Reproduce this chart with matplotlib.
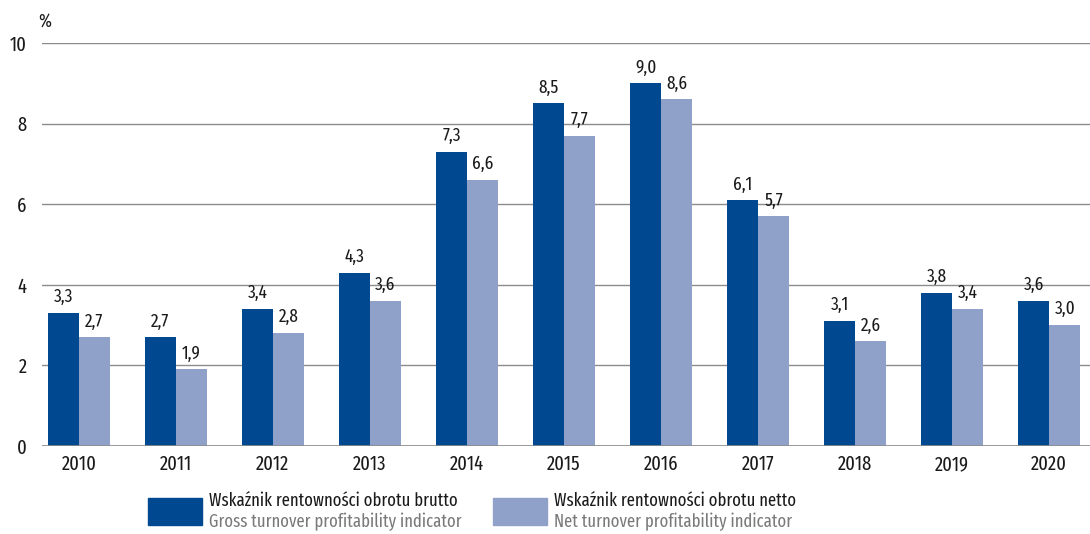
import matplotlib
matplotlib.use("Agg")
import matplotlib.pyplot as plt
from matplotlib.patches import Rectangle
import numpy as np

years = ["2010", "2011", "2012", "2013", "2014", "2015", "2016", "2017", "2018", "2019", "2020"]
brutto = [3.3, 2.7, 3.4, 4.3, 7.3, 8.5, 9.0, 6.1, 3.1, 3.8, 3.6]
netto = [2.7, 1.9, 2.8, 3.6, 6.6, 7.7, 8.6, 5.7, 2.6, 3.4, 3.0]
labels_pl = ["Wskaźnik rentowności obrotu brutto", "Wskaźnik rentowności obrotu netto"]
labels_en = ["Gross turnover profitability indicator", "Net turnover profitability indicator"]
yticks = [0, 2, 4, 6, 8, 10]

plt.rcParams['font.family'] = ['Fira Sans Extra Condensed', 'DejaVu Sans']
dark = "#004990"
light = "#8fa1c9"
txt = "#1a1a1a"
fs_tick = 14.5
fs_lab = 13.5
fs_leg = 13

fig = plt.figure(figsize=(10.9, 5.34), dpi=100)
ax = fig.add_axes([42/1090, 1 - 446/534, 1 - 42/1090, (446 - 43)/534])
x = np.arange(len(years))
w = 0.32
b1 = ax.bar(x - w/2, brutto, w, color=dark, zorder=3)
b2 = ax.bar(x + w/2, netto, w, color=light, zorder=3)
for bars, vals in ((b1, brutto), (b2, netto)):
    for r, v in zip(bars, vals):
        ax.annotate(f"{v:.1f}".replace(".", ","), (r.get_x() + r.get_width()/2, v),
                    xytext=(0, 5), textcoords="offset points", ha="center", va="bottom",
                    fontsize=fs_lab, color=txt)
ax.set_xlim(-0.38, 10.42)
ax.set_ylim(0, 10)
ax.set_yticks(yticks)
ax.set_yticklabels([str(t) for t in yticks], fontsize=fs_tick, color=txt)
ax.set_xticks(x)
ax.set_xticklabels(years, fontsize=fs_tick, color=txt)
ax.tick_params(axis="both", length=0)
ax.tick_params(axis="y", pad=11)
ax.tick_params(axis="x", pad=6)
ax.grid(axis="y", color="#8c8c8c", linewidth=1.0, zorder=0)
for s in ax.spines.values():
    s.set_visible(False)
ax.axhline(0, color="#8c8c8c", linewidth=1.2, zorder=4)
fig.text(45/1090, 1 - 21/534, "%", fontsize=fs_lab, color=txt, ha="center", va="center")

# legend
for px, col, pl, en in ((148, dark, labels_pl[0], labels_en[0]), (493, light, labels_pl[1], labels_en[1])):
    fig.patches.append(Rectangle((px/1090, 1 - 525/534), 54/1090, 27/534, transform=fig.transFigure,
                                 color=col, figure=fig))
    fig.text((px + 61)/1090, 1 - 501/534, pl, fontsize=fs_leg, color=txt, va="center", ha="left")
    fig.text((px + 61)/1090, 1 - 522/534, en, fontsize=fs_leg, color="#7a7a7a", va="center", ha="left")

fig.savefig("out.png", dpi=100)
